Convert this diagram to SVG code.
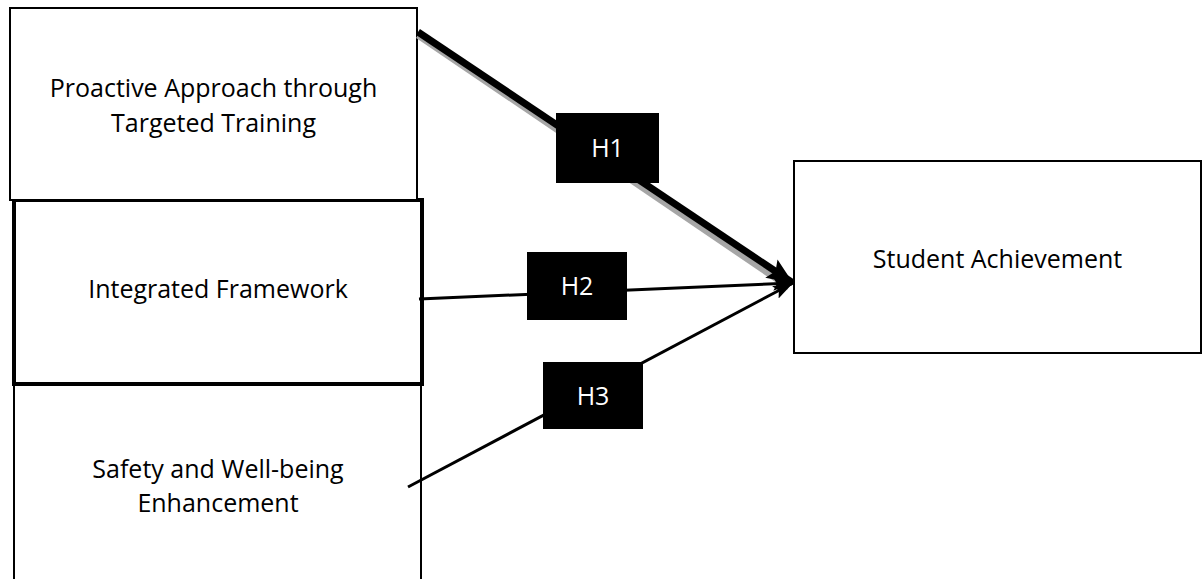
<svg xmlns="http://www.w3.org/2000/svg" width="1203" height="579" viewBox="0 0 1203 579">
<style>
.box{fill:#fff;stroke:#000}
.t{font-family:"Open Sans","Liberation Sans",sans-serif;font-size:25px;fill:#000;text-anchor:middle}
.lbl{fill:#000}
.lt{font-family:"Open Sans","Liberation Sans",sans-serif;font-size:25px;fill:#fff;text-anchor:middle}
.c{stroke:#000;fill:none}
</style>
<defs>
<marker id="ahBig" markerUnits="userSpaceOnUse" markerWidth="30" markerHeight="24" refX="26" refY="11" orient="auto"><path d="M0,0 L26,11 L0,22 L5,11 Z" fill="#000"/></marker>
<marker id="ah" markerUnits="userSpaceOnUse" markerWidth="24" markerHeight="16" refX="20" refY="7" orient="auto"><path d="M0,0 L20,7 L0,14 L4,7 Z" fill="#000"/></marker>
</defs>
<g id="node-safety">
<rect class="box" x="14" y="385" width="407" height="210" stroke-width="2"/>
<text class="t" x="218" y="478">Safety and Well-being</text>
<text class="t" x="218" y="512">Enhancement</text>
</g>
<g id="node-integrated">
<rect class="box" x="14" y="200" width="408" height="184" stroke-width="4"/>
<text class="t" x="218" y="298">Integrated Framework</text>
</g>
<g id="node-proactive">
<rect class="box" x="10" y="8" width="407" height="192" stroke-width="2"/>
<text class="t" x="213.5" y="97">Proactive Approach through</text>
<text class="t" x="213.5" y="132">Targeted Training</text>
</g>
<g id="node-achievement">
<rect class="box" x="794" y="161" width="407" height="192" stroke-width="2"/>
<text class="t" x="997.5" y="268">Student Achievement</text>
</g>
<g id="connectors">
<line x1="418" y1="35" x2="789" y2="287" stroke="#a6a6a6" stroke-width="7"/>
<line class="c" x1="418" y1="32" x2="793" y2="283" stroke-width="7" marker-end="url(#ahBig)"/>
<line class="c" x1="419" y1="299" x2="793" y2="283" stroke-width="3" marker-end="url(#ah)"/>
<line class="c" x1="408" y1="487" x2="793" y2="283" stroke-width="3" marker-end="url(#ah)"/>
</g>
<g id="label-h1">
<rect class="lbl" x="556" y="113" width="103" height="70"/>
<text class="lt" x="607.5" y="157">H1</text>
</g>
<g id="label-h2">
<rect class="lbl" x="527" y="252" width="100" height="68"/>
<text class="lt" x="577" y="295">H2</text>
</g>
<g id="label-h3">
<rect class="lbl" x="543" y="362" width="100" height="67"/>
<text class="lt" x="593" y="405">H3</text>
</g>
</svg>
